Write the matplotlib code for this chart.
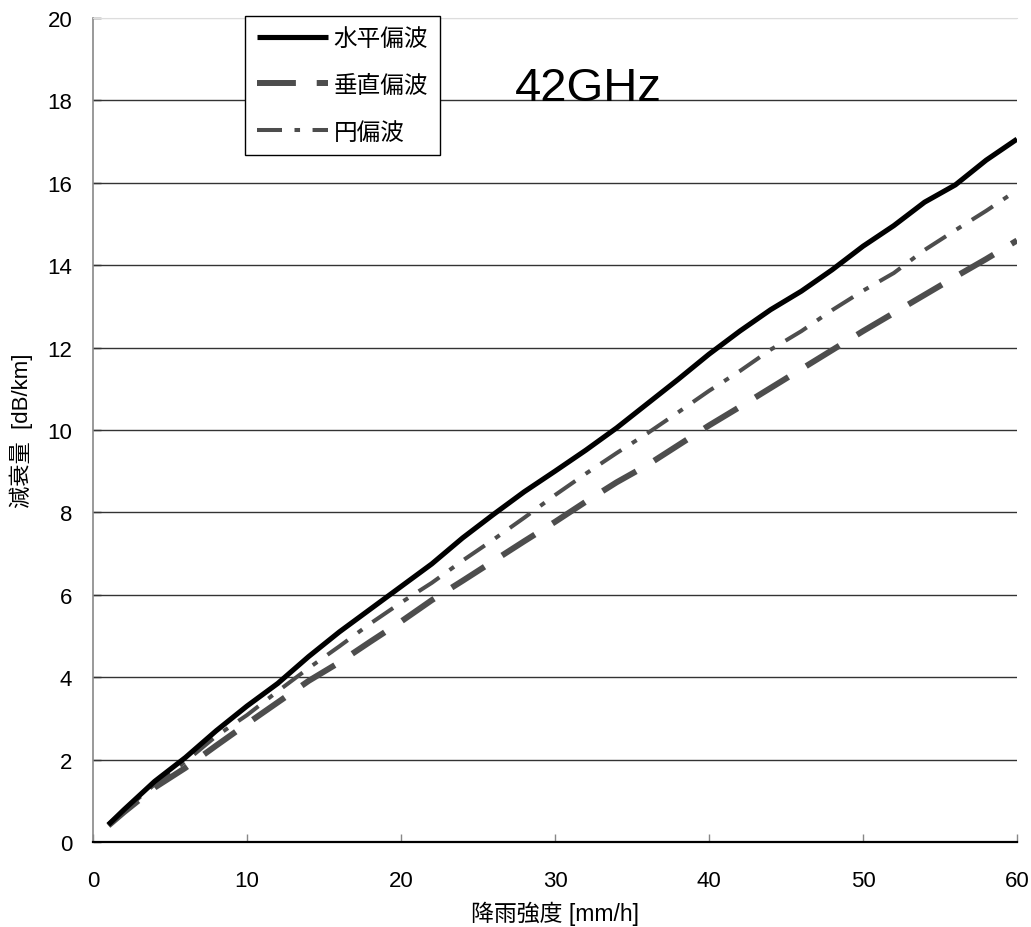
import matplotlib
matplotlib.use("Agg")
import matplotlib.pyplot as plt
from matplotlib.ticker import MultipleLocator

plt.rcParams['font.family'] = ['Liberation Sans', 'Noto Sans CJK JP', 'DejaVu Sans']
plt.rcParams['lines.scale_dashes'] = False

# Rain rate [mm/h]
rain_rate = [1, 2, 4, 6, 8, 10, 12, 14, 16, 18, 20, 22, 24, 26, 28, 30,
             32, 34, 36, 38, 40, 42, 44, 46, 48, 50, 52, 54, 56, 58, 60]
# Specific attenuation [dB/km]
att_horizontal = [0.42, 0.78, 1.47, 2.05, 2.70, 3.30, 3.85, 4.50, 5.10, 5.65, 6.20,
                  6.75, 7.38, 7.95, 8.50, 9.00, 9.51, 10.05, 10.64, 11.23, 11.84,
                  12.40, 12.92, 13.37, 13.89, 14.46, 14.96, 15.53, 15.95, 16.55, 17.06]
att_vertical = [0.40, 0.72, 1.32, 1.80, 2.34, 2.87, 3.39, 3.91, 4.36, 4.86, 5.35,
                5.87, 6.34, 6.82, 7.30, 7.77, 8.26, 8.73, 9.15, 9.63, 10.11,
                10.56, 11.02, 11.48, 11.94, 12.40, 12.84, 13.28, 13.72, 14.15, 14.60]
att_circular = [0.41, 0.75, 1.40, 1.95, 2.57, 3.08, 3.66, 4.22, 4.75, 5.30, 5.81,
                6.29, 6.83, 7.34, 7.87, 8.42, 8.94, 9.44, 9.92, 10.43, 10.95,
                11.43, 11.95, 12.40, 12.91, 13.38, 13.81, 14.37, 14.85, 15.32, 15.82]

labels = ['水平偏波', '垂直偏波', '円偏波']
title_text = '42GHz'

fig = plt.figure(figsize=(10.31, 9.28), dpi=100)
ax = fig.add_axes([93/1031, 85/928, 924/1031, 824/928])

ax.plot(rain_rate, att_horizontal, color='black', lw=3.7, label=labels[0],
        solid_capstyle='butt', zorder=5)
ax.plot(rain_rate, att_vertical, color='#4d4d4d', lw=4.3, label=labels[1],
        dashes=(28, 15), dash_capstyle='butt', zorder=4)
ax.plot(rain_rate, att_circular, color='#4d4d4d', lw=2.9, label=labels[2],
        dashes=(18, 9, 4, 9), dash_capstyle='butt', zorder=4)

ax.set_xlim(0, 60)
ax.set_ylim(0, 20)
ax.xaxis.set_major_locator(MultipleLocator(10))
ax.yaxis.set_major_locator(MultipleLocator(2))

ax.grid(axis='y', color='#333333', lw=1.0)
ax.grid(axis='x', visible=False)
gl = ax.yaxis.get_gridlines()
for line, val in zip(gl, ax.get_yticks()):
    if abs(val - 20) < 1e-6:
        line.set_color('#dddddd')

ax.spines['right'].set_visible(False)
ax.spines['top'].set_color('#dddddd')
ax.spines['left'].set_color('#888888')
ax.spines['left'].set_linewidth(1.2)
ax.spines['bottom'].set_color('black')
ax.spines['bottom'].set_linewidth(1.6)

ax.tick_params(axis='x', direction='in', length=6, color='#888888', width=1,
               labelsize=16, pad=20)
ax.tick_params(axis='y', direction='in', length=6, color='#333333', width=1,
               labelsize=16, pad=15)

ax.set_xlabel('降雨強度 [mm/h]', fontsize=16.5, labelpad=7)
ax.set_ylabel('減衰量  [dB/km]', fontsize=16, labelpad=10)

ax.text(27.4, 18.0, title_text, fontsize=34, va='baseline', ha='left')

leg = ax.legend(loc='upper left', bbox_to_anchor=(152/924, 1.0024),
                borderaxespad=0, fancybox=False, framealpha=1,
                edgecolor='black', fontsize=17, handlelength=3.0,
                handletextpad=0.25, labelspacing=1.05, borderpad=0.5)
leg.get_frame().set_linewidth(1.0)

fig.savefig('out.png', dpi=100)
